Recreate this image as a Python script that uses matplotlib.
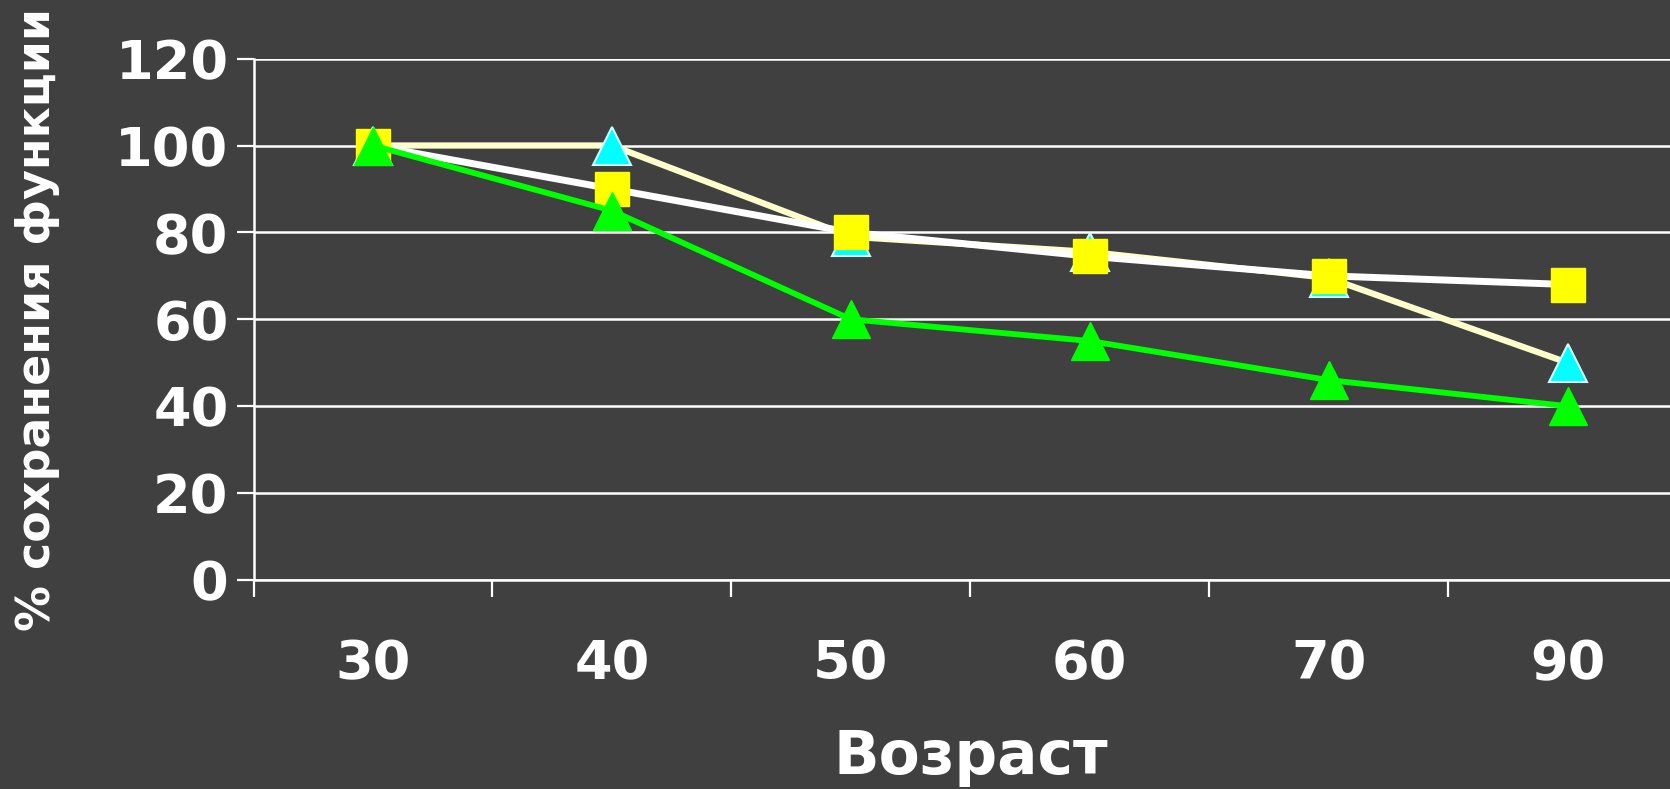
import matplotlib.pyplot as plt

ages = ["30", "40", "50", "60", "70", "90"]
white_vals = [100, 90, 80, 74.5, 70, 68]
cream_vals = [100, 100, 79, 75.5, 69.5, 50]
green_vals = [100, 85, 60, 55, 46, 40]
y_ticks = [0, 20, 40, 60, 80, 100, 120]

bg = "#404040"
plt.rcParams["font.family"] = ["DejaVu Sans"]
plt.rcParams["font.weight"] = "bold"

fig = plt.figure(figsize=(16.7, 7.89), dpi=100, facecolor=bg)
ax = fig.add_axes([0.1518, 0.265, 0.8584, 0.6607])
ax.set_facecolor(bg)

x = list(range(len(ages)))

ax.plot(x, cream_vals, color="#FFFFCC", lw=4.5, marker="^", ms=27,
        mfc="#00FFFF", mec="#CCFFFF", mew=1.5, zorder=3, clip_on=False)
ax.plot(x, white_vals, color="white", lw=5, marker="s", ms=24,
        mfc="#FFFF00", mec="#FFFF00", mew=1, zorder=4, clip_on=False)
ax.plot(x, green_vals, color="#00FF00", lw=4.2, marker="^", ms=27,
        mfc="#00FF00", mec="#00FF00", zorder=5, clip_on=False)

ax.set_xlim(-0.5, len(ages) - 0.5)
ax.set_ylim(0, 120)

# y axis
ax.set_yticks(y_ticks)
ax.yaxis.grid(True, color="white", lw=1.8)
ax.set_axisbelow(True)
ax.tick_params(axis="y", colors="white", length=12, width=1.6, direction="out",
               labelsize=39, pad=6)

# x axis: ticks between categories, labels at the centres
ax.set_xticks([i - 0.5 for i in x])
ax.set_xticks(x, minor=True)
ax.set_xticklabels([])
ax.set_xticklabels(ages, minor=True)
ax.tick_params(axis="x", which="major", colors="white", length=12, width=1.6,
               direction="out")
ax.tick_params(axis="x", which="minor", colors="white", length=0,
               labelsize=39, pad=42)

for side in ["top", "right"]:
    ax.spines[side].set_visible(False)
for side in ["left", "bottom"]:
    ax.spines[side].set_color("white")
    ax.spines[side].set_linewidth(1.8)

ax.set_xlabel("Возраст", color="white", fontsize=43, fontweight="bold")
ax.xaxis.set_label_coords((971 - 253.5) / 1433.5, -0.285)
ax.xaxis.label.set_va("top")
ax.set_ylabel("% сохранения функции", color="white", fontsize=33, fontweight="bold")
ax.yaxis.set_label_coords(-0.135, 0.5)

fig.savefig("out.png", dpi=100, facecolor=bg)
